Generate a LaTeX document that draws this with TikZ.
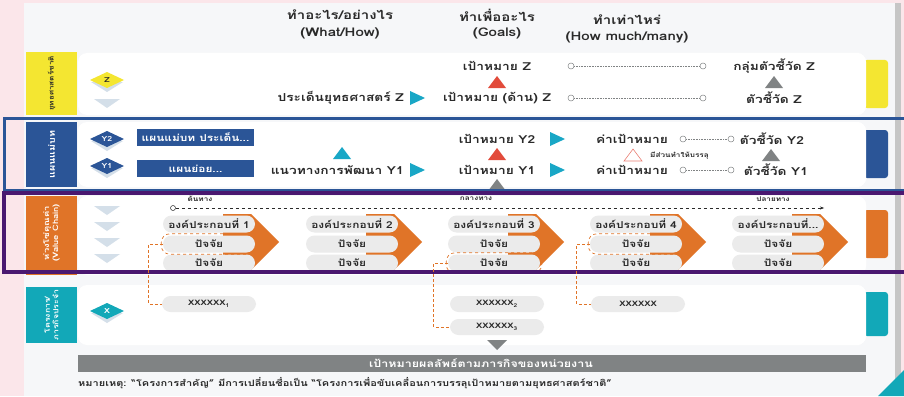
\documentclass[tikz,border=0pt]{standalone}
\usepackage{fontspec}
\setmainfont[Script=Thai, FakeStretch=1.25]{Loma}
\usetikzlibrary{arrows.meta}
\definecolor{pinkbg}{HTML}{FBE6EA}
\definecolor{panelbg}{HTML}{F6F7F9}
\definecolor{yelc}{HTML}{F4E631}
\definecolor{bluec}{HTML}{2B5597}
\definecolor{orac}{HTML}{E07428}
\definecolor{tealc}{HTML}{12A8B8}
\definecolor{purc}{HTML}{4A1870}
\definecolor{lightc}{HTML}{D4DFE9}
\definecolor{pillc}{HTML}{EBEBEB}
\definecolor{redc}{HTML}{E24B3B}
\definecolor{grayc}{HTML}{808384}
\definecolor{arrc}{HTML}{19A7C6}
\definecolor{txtc}{HTML}{2A2A2A}
\tikzset{
  hdr/.style={font=\fontsize{12}{14}\selectfont\bfseries, text=txtc, inner sep=0pt},
  lbl/.style={font=\fontsize{11}{13}\selectfont\bfseries, text=txtc, inner sep=0pt},
  pill/.style={fill=pillc, rounded corners=8.5pt, minimum width=92pt, minimum height=17pt, inner sep=0pt, font=\fontsize{9.5}{10}\selectfont\bfseries, text=txtc},
  xpill/.style={pill, minimum width=94pt, minimum height=16pt, font=\fontsize{7.5}{9}\selectfont\bfseries},
  dpill/.style={draw=orac, dashed, line width=0.7pt},
  circ/.style={circle, draw=grayc, fill=white, minimum size=6pt, inner sep=0pt, line width=0.5pt},
  dots/.style={densely dotted, grayc, line width=0.6pt},
  side/.style={font=\fontsize{6.5}{8}\selectfont\bfseries, rotate=90, align=center, inner sep=0pt},
  conn/.style={densely dashed, orac, line width=0.8pt},
  bluebox/.style={fill=bluec, text=white, minimum width=117pt, minimum height=17pt, inner sep=0pt, font=\fontsize{9.5}{10}\selectfont\bfseries},
  panel/.style={fill=white, rounded corners=9pt},
  small/.style={font=\fontsize{6.5}{7}\selectfont\bfseries, text=txtc, inner sep=0pt}
}
\newcommand\dmd[5]{%
  \fill[lightc] (#1-16,#2+2) -- (#1,#2+12) -- (#1+16,#2+2) -- cycle;
  \fill[#3] (#1-17,#2) -- (#1,#2-8) -- (#1+17,#2) -- (#1,#2+8) -- cycle;
  \node[font=\fontsize{7}{8}\selectfont\bfseries, text=#4, inner sep=0pt] (#5) at (#1,#2) {#5};}
\newcommand\chev[2]{\fill[lightc] (#1-13,#2-4) -- (#1+13,#2-4) -- (#1,#2+5) -- cycle;}
\newcommand\rtri[3]{\fill[#3] (#1-7,#2-7) -- (#1+8,#2) -- (#1-7,#2+7) -- cycle;}
\newcommand\utri[3]{\fill[#3] (#1-9,#2+6) -- (#1,#2-6) -- (#1+9,#2+6) -- cycle;}
\newcommand\compfive{องค์ประกอบที่...}
\begin{document}
\begin{tikzpicture}[x=1pt,y=-1pt]
\useasboundingbox (0,0) rectangle (904,396);
\fill[pinkbg] (0,0) rectangle (904,396);
\fill[panelbg] (24,3) rectangle (895,396);
\fill[gray!45] (895,3) rectangle (901,396);
\fill[tealc] (878,396) -- (904,370) -- (904,396) -- cycle;

% headers
\node[hdr] (h1a) at (340,15) {ทำอะไร/อย่างไร};
\node[hdr] (h1b) at (340,33) {(What/How)};
\node[hdr] (h2a) at (497,15) {ทำเพื่ออะไร};
\node[hdr] (h2b) at (497,33) {(Goals)};
\node[hdr] (h3a) at (627,20) {ทำเท่าไหร่};
\node[hdr] (h3b) at (627,37) {(How much/many)};

% ===== row 1
\fill[panel] (78,53) rectangle (866,115);
\fill[yelc] (26,52) rectangle (77,115);
\node[side, text=txtc] (s1) at (51.5,83.5) {ยุทธศาสตร์ชาติ};
\fill[yelc, rounded corners=3pt] (864,60) rectangle (888,108);
\fill[panel] (850,53) rectangle (866,115);
\dmd{107}{80}{yelc}{txtc}{Z}
\chev{107}{103}
\node[lbl] (gz) at (497,66) {เป้าหมาย Z};
\utri{497}{82}{redc}
\node[lbl] (gdz) at (497,98) {เป้าหมาย (ด้าน) Z};
\node[lbl, anchor=east] (pz) at (404,98) {ประเด็นยุทธศาสตร์ Z};
\rtri{417}{98}{arrc}
\node[circ] (c1l) at (571,66) {};
\node[circ] (c1r) at (703,66) {};
\draw[dots] (c1l) -- (c1r);
\node[circ] (c2l) at (571,98) {};
\node[circ] (c2r) at (703,98) {};
\draw[dots] (c2l) -- (c2r);
\node[lbl] (kz) at (774,66) {กลุ่มตัวชี้วัด Z};
\utri{774}{82}{grayc}
\node[lbl] (iz) at (774,98) {ตัวชี้วัด Z};

% ===== row 2
\fill[panel] (78,122) rectangle (866,187);
\fill[bluec] (26,122) rectangle (77,187);
\node[side, text=white, font=\fontsize{8.5}{9}\selectfont\bfseries] (s2) at (51.5,154.5) {แผนแม่บท};
\fill[bluec, rounded corners=3pt] (864,130) rectangle (888,178);
\fill[panel] (850,122) rectangle (866,187);
\dmd{107}{139}{bluec}{white}{Y2}
\dmd{107}{166}{bluec}{white}{Y1}
\node[bluebox] (b1) at (195.5,137) {แผนแม่บท ประเด็น...};
\node[bluebox] (b2) at (195.5,168.5) {แผนย่อย...};
\utri{342}{153}{arrc}
\node[lbl, anchor=east] (wy) at (404,170) {แนวทางการพัฒนา Y1};
\rtri{417}{170}{arrc}
\node[lbl] (gy2) at (497,139) {เป้าหมาย Y2};
\utri{497}{154}{redc}
\node[lbl] (gy1) at (497,170) {เป้าหมาย Y1};
\utri{497}{185}{grayc}
\rtri{557}{139}{arrc}
\rtri{557}{170}{arrc}
\node[lbl] (t2) at (632,139) {ค่าเป้าหมาย};
\node[lbl] (t1) at (632,170) {ค่าเป้าหมาย};
\draw[redc!70, line width=0.6pt] (624,161) -- (633,149) -- (642,161) -- cycle;
\node[small, anchor=west] (ms) at (650,156) {มีส่วนทำให้บรรลุ};
\node[circ] (c3l) at (683,139) {};
\node[circ] (c3r) at (731,139) {};
\draw[dots] (c3l) -- (c3r);
\node[circ] (c4l) at (683,170) {};
\node[circ] (c4r) at (731,170) {};
\draw[dots] (c4l) -- (c4r);
\node[lbl] (iy2) at (772,139) {ตัวชี้วัด Y2};
\utri{771}{155}{grayc}
\node[lbl] (iy1) at (776,170) {ตัวชี้วัด Y1};
\draw[bluec, line width=3pt] (4,118.5) rectangle (912,190);

% ===== row 3
\fill[panel] (78,196) rectangle (866,275);
\fill[orac] (26,196) rectangle (77,275);
\node[side, text=white, font=\fontsize{7.5}{9}\selectfont\bfseries] (s3) at (51.5,233) {ห่วงโซ่คุณค่า\\(Value Chain)};
\fill[orac, rounded corners=3pt] (864,210) rectangle (888,258);
\fill[panel] (850,196) rectangle (866,275);
\chev{107}{210}\chev{107}{226}\chev{107}{242}\chev{107}{258}
\node[circ, draw=txtc, minimum size=5pt] (st) at (173,208) {};
\coordinate (en) at (824,208);
\draw[dashed, txtc, line width=0.4pt, -{Stealth[length=4pt,width=3pt]}] (st) -- (en);
\node[small] (l1) at (200,199) {ต้นทาง};
\node[small] (l2) at (476,199) {กลางทาง};
\node[small] (l3) at (773,199) {ปลายทาง};
\foreach \b/\n/\t in {163/ca/องค์ประกอบที่ 1, 306/cb/องค์ประกอบที่ 2, 448/cc/องค์ประกอบที่ 3, 590/cd/องค์ประกอบที่ 4, 732/ce/\compfive}{
  \fill[orac] (\b+60,214) -- (\b+88,214) -- (\b+116,242) -- (\b+88,270) -- (\b+60,270) -- cycle;
  \node[pill] (\n1) at (\b+46,224) {\t};
  \node[pill] (\n2) at (\b+46,244) {ปัจจัย};
  \node[pill] (\n3) at (\b+46,263) {ปัจจัย};
}
\draw[dpill, rounded corners=8.5pt] ([shift={(-1.5,-1.5)}]ca2.north west) rectangle ([shift={(1.5,1.5)}]ca2.south east);
\draw[dpill, rounded corners=8.5pt] ([shift={(-1.5,-1.5)}]cc3.north west) rectangle ([shift={(1.5,1.5)}]cc3.south east);
\draw[dpill, rounded corners=8.5pt] ([shift={(-1.5,-1.5)}]cd2.north west) rectangle ([shift={(1.5,1.5)}]cd2.south east);
\draw[purc, line width=3.5pt] (4,193) rectangle (912,272);

% ===== row 4
\fill[panel] (78,285) rectangle (866,345);
\fill[tealc] (26,287) rectangle (77,343);
\node[side, text=white, font=\fontsize{7}{8.5}\selectfont\bfseries] (s4) at (51.5,315) {โครงการ/\\ภารกิจประจำ};
\fill[tealc, rounded corners=3pt] (864,292) rectangle (888,336);
\fill[panel] (850,285) rectangle (866,345);
\dmd{107}{311}{tealc}{white}{X}
\node[xpill] (x1) at (209,304) {XXXXXX\textsubscript{1}};
\node[xpill] (x2) at (497,304) {XXXXXX\textsubscript{2}};
\node[xpill] (x3) at (497,327) {XXXXXX\textsubscript{3}};
\node[xpill] (x4) at (638,304) {XXXXXX};
\draw[conn] (ca2.west) -- ++(-14,0) |- (x1.west);
\draw[conn] (cc3.west) -- ++(-14,0) |- (x3.west);
\draw[conn] (cd2.west) -- ++(-13,0) |- (x4.west);

% ===== bottom
\fill[grayc] (487,340) -- (507,340) -- (497,350) -- cycle;
\fill[grayc] (78,355) rectangle (866,372);
\node[font=\fontsize{10}{11}\selectfont\bfseries, text=white, inner sep=0pt] (gbar) at (481,363.5) {เป้าหมายผลลัพธ์ตามภารกิจของหน่วยงาน};
\node[font=\fontsize{8.8}{9}\selectfont\bfseries, text=txtc, anchor=west, inner sep=0pt] (note) at (78,383) {หมายเหตุ: “โครงการสำคัญ” มีการเปลี่ยนชื่อเป็น “โครงการเพื่อขับเคลื่อนการบรรลุเป้าหมายตามยุทธศาสตร์ชาติ”};
\end{tikzpicture}
\end{document}
